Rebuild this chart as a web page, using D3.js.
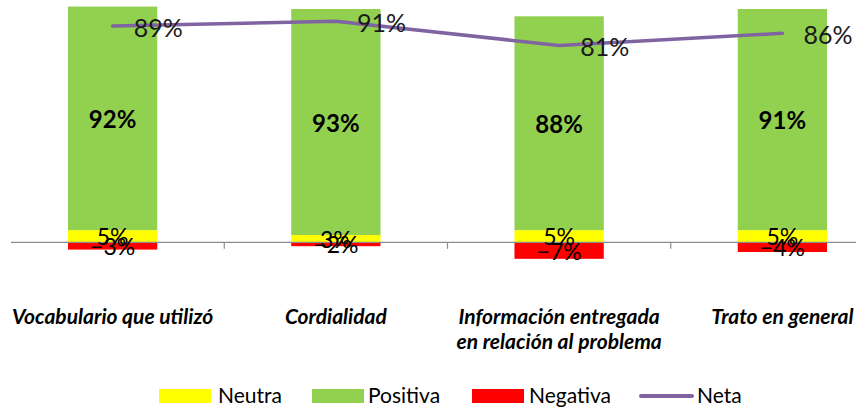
<!DOCTYPE html>
<html>
<head>
<meta charset="utf-8">
<script src="https://cdn.jsdelivr.net/npm/d3@7"></script>
<style>
  html, body { margin: 0; padding: 0; background: #fff; }
  svg { display: block; }
  text { font-family: Lato, "Open Sans", sans-serif; }
</style>
</head>
<body>
<svg id="chart" width="859" height="408"></svg>
<script>
// ---- data ----
const categories = [
  ["Vocabulario que utilizó"],
  ["Cordialidad"],
  ["Información entregada", "en relación al problema"],
  ["Trato en general"]
];
const neutra   = [5, 3, 5, 5];
const positiva = [92, 93, 88, 91];
const negativa = [-3, -1.6, -6.8, -4];
const neta     = [89, 91, 81, 86];
const seriesNames = ["Neutra", "Positiva", "Negativa", "Neta"];

// ---- styles ----
const colors = { Neutra: "#FFFF00", Positiva: "#92D050", Negativa: "#FF0000", Neta: "#8064A2" };

const svg = d3.select("#chart");
const idx = d3.range(categories.length);

const x = d3.scaleBand().domain(idx).range([1, 894]).paddingInner(0.6).paddingOuter(0.3);
const y = d3.scaleLinear().domain([-10, 100]).range([266.6, -0.7]);
const cx = i => x(i) + x.bandwidth() / 2;
const pct = v => d3.format(".0f")(v) + "%";

// ticks
const step = x.step();
svg.selectAll(".tick").data(idx.slice(1)).join("line")
  .attr("class", "tick")
  .attr("x1", i => x(i) - x.paddingInner() * step / 2)
  .attr("x2", i => x(i) - x.paddingInner() * step / 2)
  .attr("y1", y(0)).attr("y2", y(0) + 6.5)
  .attr("stroke", "#8c8c8c").attr("stroke-width", 1.2);

// bars
const g = svg.append("g");
g.selectAll(".neu").data(idx).join("rect")
  .attr("x", i => x(i)).attr("width", x.bandwidth())
  .attr("y", i => y(neutra[i])).attr("height", i => y(0) - y(neutra[i]))
  .attr("fill", colors.Neutra);
g.selectAll(".pos").data(idx).join("rect")
  .attr("x", i => x(i)).attr("width", x.bandwidth())
  .attr("y", i => y(neutra[i] + positiva[i])).attr("height", i => y(neutra[i]) - y(neutra[i] + positiva[i]))
  .attr("fill", colors.Positiva);
g.selectAll(".neg").data(idx).join("rect")
  .attr("x", i => x(i)).attr("width", x.bandwidth())
  .attr("y", y(0)).attr("height", i => y(negativa[i]) - y(0))
  .attr("fill", colors.Negativa);

// axis line over bars
svg.append("line")
  .attr("x1", 11).attr("x2", 856)
  .attr("y1", y(0)).attr("y2", y(0))
  .attr("stroke", "#8c8c8c").attr("stroke-width", 1.3);

// bar labels
svg.selectAll(".plab").data(idx).join("text")
  .attr("x", cx).attr("y", i => y(neutra[i] + positiva[i] / 2))
  .attr("text-anchor", "middle").attr("dominant-baseline", "central")
  .attr("font-size", 24).attr("font-weight", "bold").attr("fill", "#000")
  .text(i => pct(positiva[i]));
svg.selectAll(".nlab").data(idx).join("text")
  .attr("x", cx).attr("y", i => y(neutra[i] / 2))
  .attr("text-anchor", "middle").attr("dominant-baseline", "central")
  .attr("font-size", 23).attr("fill", "#000")
  .text(i => pct(neutra[i]));
svg.selectAll(".neglab").data(idx).join("text")
  .attr("x", cx).attr("y", i => y(negativa[i] / 2))
  .attr("text-anchor", "middle").attr("dominant-baseline", "central")
  .attr("font-size", 23).attr("fill", "#000")
  .text(i => pct(negativa[i]));

// net line
const line = d3.line().x(i => cx(i)).y(i => y(neta[i]));
svg.append("path").datum(idx)
  .attr("d", line).attr("fill", "none")
  .attr("stroke", colors.Neta).attr("stroke-width", 3.5)
  .attr("stroke-linecap", "round").attr("stroke-linejoin", "round");
svg.selectAll(".netlab").data(idx).join("text")
  .attr("x", i => cx(i) + 21).attr("y", i => y(neta[i]) + 1)
  .attr("dominant-baseline", "central")
  .attr("font-size", 25).attr("fill", "#1a1a1a")
  .text(i => pct(neta[i]));

// category labels
const cl = svg.selectAll(".cat").data(idx).join("text")
  .attr("text-anchor", "middle")
  .attr("font-size", 21).attr("font-weight", "bold").attr("font-style", "italic").attr("fill", "#000");
cl.selectAll("tspan").data(i => categories[i].map(t => ({ t, i }))).join("tspan")
  .attr("x", d => cx(d.i)).attr("y", (d, k) => 324 + k * 25)
  .text(d => d.t);

// legend
const legendItems = [
  { name: seriesNames[0], type: "rect", x: 159, tx: 218 },
  { name: seriesNames[1], type: "rect", x: 312, tx: 368 },
  { name: seriesNames[2], type: "rect", x: 472, tx: 529 },
  { name: seriesNames[3], type: "line", x: 640, tx: 697 }
];
const lg = svg.append("g");
legendItems.forEach(d => {
  if (d.type === "rect") {
    lg.append("rect").attr("x", d.x).attr("y", 389).attr("width", 52).attr("height", 14).attr("fill", colors[d.name]);
  } else {
    lg.append("line").attr("x1", d.x + 1).attr("x2", d.x + 52).attr("y1", 396).attr("y2", 396)
      .attr("stroke", colors[d.name]).attr("stroke-width", 4).attr("stroke-linecap", "round");
  }
  lg.append("text").attr("x", d.tx).attr("y", 403).attr("font-size", 21).attr("fill", "#000").text(d.name);
});
</script>
</body>
</html>
